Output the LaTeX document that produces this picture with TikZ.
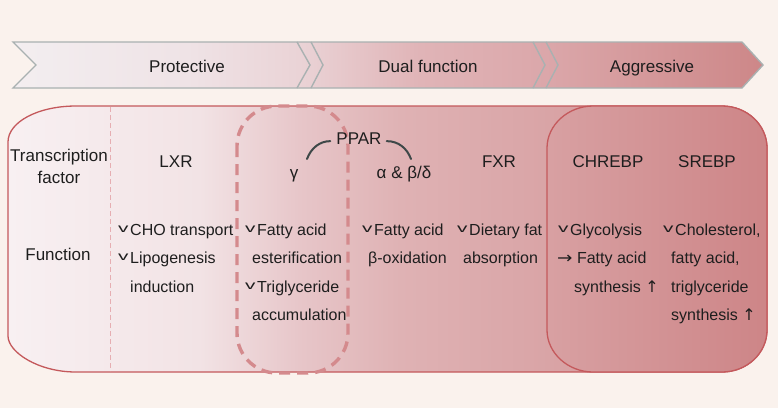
\documentclass[tikz,border=0pt]{standalone}
\usepackage{fontspec}
\setmainfont{Liberation Sans}
\newfontfamily\arrowfont{DejaVu Sans}
\usepackage{graphicx}

\definecolor{bgcream}{HTML}{FAF2ED}
\definecolor{txt}{HTML}{1E1E1E}
\definecolor{bandline}{HTML}{A9B1B1}
\definecolor{boxred}{HTML}{C4595C}
\definecolor{dashred}{HTML}{D48A8D}
\definecolor{sepred}{HTML}{E6AEB2}
\definecolor{arcgray}{HTML}{3E4848}
% band colours, left to right
\definecolor{b0}{HTML}{F3EEF0}
\definecolor{b1}{HTML}{EFE3E6}
\definecolor{b2}{HTML}{EAD3D6}
\definecolor{b3}{HTML}{E0B4B7}
\definecolor{b4}{HTML}{DBA7AA}
\definecolor{b5}{HTML}{CD8788}
% main box colours, left to right
\definecolor{m0}{HTML}{F8F0F2}
\definecolor{m1}{HTML}{F2E3E5}
\definecolor{m2}{HTML}{E7C6C9}
\definecolor{m3}{HTML}{DFB2B4}
\definecolor{m4}{HTML}{D9A4A6}
\definecolor{m5}{HTML}{CE898B}

\pgfdeclarehorizontalshading{bandshade}{100bp}{color(0bp)=(b0); color(25bp)=(b0);
  color(36.6bp)=(b1); color(44.1bp)=(b2); color(52.1bp)=(b3); color(60.5bp)=(b4);
  color(75bp)=(b5); color(100bp)=(b5)}
\pgfdeclarehorizontalshading{mainshade}{100bp}{color(0bp)=(m0); color(25bp)=(m0);
  color(37.6bp)=(m1); color(44.2bp)=(m2); color(50.8bp)=(m3); color(60.7bp)=(m4);
  color(75bp)=(m5); color(100bp)=(m5)}

% the small tick in front of each function line
\newcommand{\tickv}{\makebox[12pt][l]{\raisebox{2.6pt}{\fontsize{13}{13}\selectfont\scalebox{1.6}[0.95]{v}}}}
\newcommand{\rarr}{{\arrowfont\scalebox{1.15}[1]{→}}}
\newcommand{\uarr}{{\arrowfont ↑}}

\tikzset{
  hdr/.style={font=\fontsize{17}{20}\selectfont, text=txt, inner sep=0pt, anchor=base},
  fn/.style={font=\fontsize{16}{18}\selectfont, text=txt, inner sep=0pt, anchor=base west},
  chev/.style={draw=bandline, line width=1.4pt, line join=miter},
  ppararc/.style={draw=arcgray, line width=2pt, line cap=round}
}

\begin{document}
\begin{tikzpicture}[x=1pt,y=-1pt]
	\useasboundingbox (0,0) rectangle (778,408);
	\fill[bgcream] (0,0) rectangle (778,408);

	% stage band
	\path[shading=bandshade, draw=bandline, line width=1.4pt]
		(13,42) -- (742,42) -- (763,65) -- (742,88) -- (13,88) -- (36,65) -- cycle;
	\draw[chev] (297,42) -- (310,65) -- (297,88);
	\draw[chev] (311,42) -- (323,65) -- (311,88);
	\draw[chev] (533,42) -- (545,65) -- (533,88);
	\draw[chev] (546,42) -- (558,65) -- (546,88);
	\node[hdr] (prot) at (187,72) {Protective};
	\node[hdr] (dual) at (428,72) {Dual function};
	\node[hdr] (aggr) at (652,72) {Aggressive};

	% main box
	\path[shading=mainshade, draw=boxred, line width=1.3pt]
		(76,106) -- (722,106) .. controls (747,106) and (767,125) .. (767,148)
		-- (767,330) .. controls (767,353) and (747,372) .. (722,372)
		-- (76,372) .. controls (38,372) and (8,352) .. (8,336)
		-- (8,142) .. controls (8,122) and (38,106) .. (76,106) -- cycle;
	\draw[sepred, line width=0.8pt, dash pattern=on 5pt off 3pt] (110,107) -- (110,371);

	% aggressive group
	\path[left color=m4!95!boxred, right color=m5!92!boxred, draw=boxred, line width=1.3pt]
		(593,106) -- (722,106) .. controls (747,106) and (767,125) .. (767,148)
		-- (767,330) .. controls (767,353) and (747,372) .. (722,372)
		-- (593,372) .. controls (568,372) and (547,353) .. (547,330)
		-- (547,148) .. controls (547,125) and (568,106) .. (593,106) -- cycle;

	% PPAR gamma group
	\draw[dashred, line width=3.4pt, dash pattern=on 11pt off 7pt, rounded corners=40pt]
		(237,106) rectangle (348,373);

	% transcription factors
	\node[hdr] (tf1) at (59,161) {Transcription};
	\node[hdr] (tf2) at (59,183) {factor};
	\node[hdr] (lxr) at (176,167) {LXR};
	\node[hdr] (ppar) at (359,144) {PPAR};
	\node[hdr] (gam) at (294,178) {γ};
	\node[hdr] (ab) at (404,178) {α \& β/δ};
	\node[hdr] (fxr) at (499,167) {FXR};
	\node[hdr] (chrebp) at (608,167) {CHREBP};
	\node[hdr] (srebp) at (707,167) {SREBP};
	\coordinate (gamtop) at (307,159);
	\coordinate (abtop) at (411,159);
	\draw[ppararc] (gamtop) .. controls (311,148) and (320,141) .. ([shift={(-6,3)}]ppar.west);
	\draw[ppararc] ([shift={(5,3)}]ppar.east) .. controls (398,141) and (407,148) .. (abtop);

	% functions
	\node[hdr] (func) at (58,260) {Function};
	\node[fn] (lxr1) at (118,235) {\tickv CHO transport};
	\node[fn] (lxr2) at (118,263.5) {\tickv Lipogenesis};
	\node[fn] (lxr3) at (130,292) {induction};
	\node[fn] (gam1) at (245,235) {\tickv Fatty acid};
	\node[fn] (gam2) at (252,263.5) {esterification};
	\node[fn] (gam3) at (245,292) {\tickv Triglyceride};
	\node[fn] (gam4) at (252,320.5) {accumulation};
	\node[fn] (ab1) at (362,235) {\tickv Fatty acid};
	\node[fn] (ab2) at (368,263.5) {β-oxidation};
	\node[fn] (fxr1) at (457,235) {\tickv Dietary fat};
	\node[fn] (fxr2) at (463,263.5) {absorption};
	\node[fn] (chr1) at (558,235) {\tickv Glycolysis};
	\node[fn] (chr2) at (557,263.5) {\rarr\ Fatty acid};
	\node[fn] (chr3) at (574,292) {synthesis \uarr};
	\node[fn] (sre1) at (663,235) {\tickv Cholesterol,};
	\node[fn] (sre2) at (671,263.5) {fatty acid,};
	\node[fn] (sre3) at (671,292) {triglyceride};
	\node[fn] (sre4) at (671,320.5) {synthesis \uarr};
\end{tikzpicture}
\end{document}
